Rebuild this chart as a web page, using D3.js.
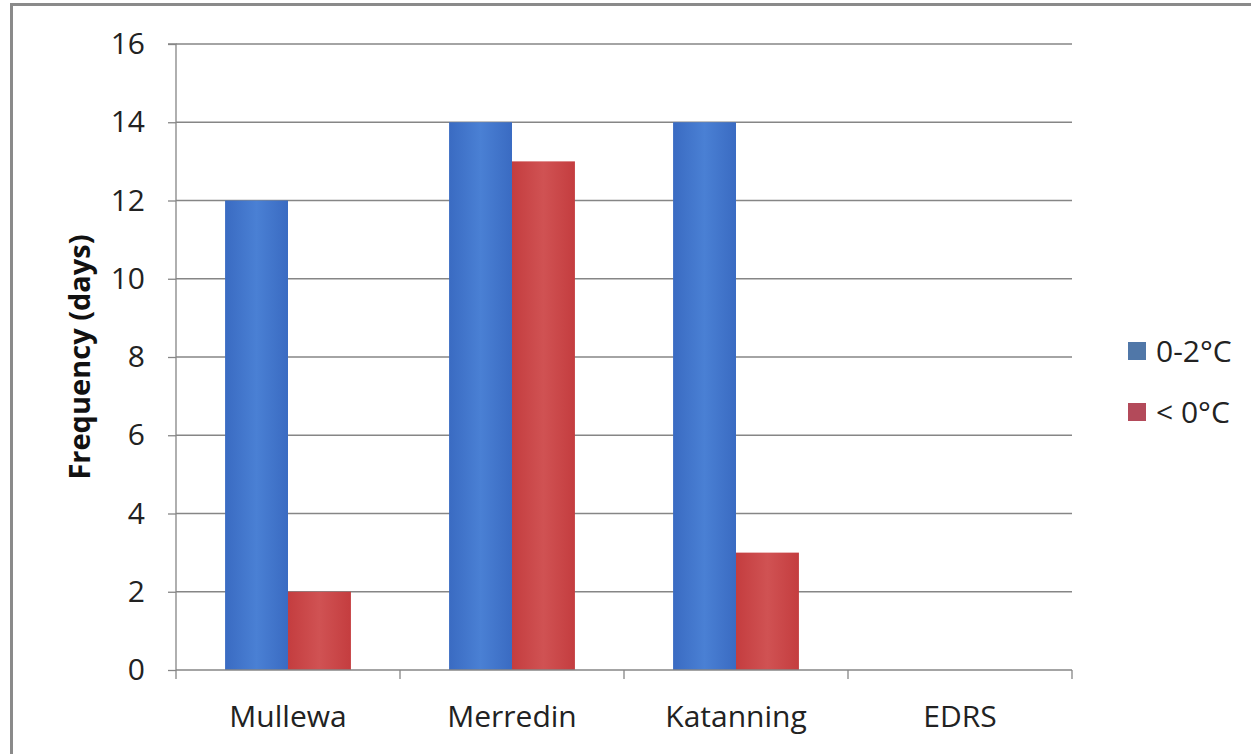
<!DOCTYPE html>
<html><head><meta charset="utf-8">
<script src="https://cdn.jsdelivr.net/npm/d3@7"></script>
<style>body{margin:0;background:#fff;overflow:hidden;}svg{display:block;}</style>
</head><body>
<script>
const categories = ["Mullewa", "Merredin", "Katanning", "EDRS"];
const seriesNames = ["0-2°C", "< 0°C"];
const warmValues = [12, 14, 14, 0];
const coldValues = [2, 13, 3, 0];
const yTicks = [0, 2, 4, 6, 8, 10, 12, 14, 16];

(function () {
const W = 1251, H = 754;
const svg = d3.select("body").append("svg").attr("width", W).attr("height", H);
const font = "'Open Sans', 'Liberation Sans', sans-serif";

// outer frame (top and left edges visible, runs off the right and bottom)
svg.append("rect").attr("x", 11.5).attr("y", 4.5).attr("width", 1300).attr("height", 800)
  .attr("fill", "#fff").attr("stroke", "#8a8a8a").attr("stroke-width", 3);

const pLeft = 176, pRight = 1072, pTop = 44, pBottom = 670;
const x = d3.scaleBand().domain(categories).range([pLeft, pRight]).paddingInner(0).paddingOuter(0);
const xs = d3.scaleBand().domain(seriesNames).range([0, x.bandwidth()]).paddingInner(0).paddingOuter(0.78);
const y = d3.scaleLinear().domain([0, 16]).range([pBottom, pTop]);

const defs = svg.append("defs");
function grad(id, c1, c2) {
  const g = defs.append("linearGradient").attr("id", id).attr("x1", 0).attr("x2", 1).attr("y1", 0).attr("y2", 0);
  g.append("stop").attr("offset", "0%").attr("stop-color", c1);
  g.append("stop").attr("offset", "50%").attr("stop-color", c2);
  g.append("stop").attr("offset", "100%").attr("stop-color", c1);
}
grad("gb", "#3a6bc2", "#4a80d4");
grad("gr", "#c43d3f", "#d05253");
const fills = ["url(#gb)", "url(#gr)"];

// gridlines
svg.append("g").selectAll("line").data(yTicks.filter(d => d > 0)).join("line")
  .attr("x1", pLeft).attr("x2", pRight).attr("y1", d => y(d)).attr("y2", d => y(d))
  .attr("stroke", "#868686").attr("stroke-width", 1.3);

// bars
const data = categories.map((c, i) => ({ c, vals: [warmValues[i], coldValues[i]] }));
const groups = svg.append("g").selectAll("g").data(data).join("g")
  .attr("transform", d => `translate(${x(d.c)},0)`);
groups.selectAll("rect").data(d => d.vals.map((v, k) => ({ v, k }))).join("rect")
  .attr("x", d => xs(seriesNames[d.k])).attr("width", xs.bandwidth())
  .attr("y", d => y(d.v)).attr("height", d => pBottom - y(d.v))
  .attr("fill", d => fills[d.k]);

// y axis
const yAxis = svg.append("g").attr("transform", `translate(${pLeft},0)`)
  .call(d3.axisLeft(y).tickValues(yTicks).tickSize(8).tickPadding(23));
yAxis.select(".domain").attr("stroke", "#868686").attr("stroke-width", 1.3).attr("d", `M-8,${pTop}H0V${pBottom}`);
yAxis.selectAll(".tick line").attr("stroke", "#868686").attr("stroke-width", 1.3);
yAxis.selectAll(".tick text").attr("font-family", font).attr("font-size", 30).attr("fill", "#222");

// x axis
const xAxis = svg.append("g").attr("transform", `translate(0,${pBottom})`)
  .call(d3.axisBottom(x).tickSize(0).tickPadding(36));
xAxis.select(".domain").attr("stroke", "#868686").attr("stroke-width", 1.3).attr("d", `M${pLeft},0H${pRight}`);
xAxis.selectAll(".tick text").attr("font-family", font).attr("font-size", 30).attr("fill", "#222");
svg.append("g").selectAll("line").data(categories.concat([null])).join("line")
  .attr("x1", (d, i) => pLeft + i * x.bandwidth()).attr("x2", (d, i) => pLeft + i * x.bandwidth())
  .attr("y1", pBottom).attr("y2", pBottom + 9).attr("stroke", "#868686").attr("stroke-width", 1.3);

// y title
svg.append("text").attr("transform", "translate(90,357) rotate(-90)")
  .attr("text-anchor", "middle").attr("font-family", font).attr("font-weight", "bold")
  .attr("font-size", 29).attr("fill", "#111").text("Frequency (days)");

// legend
const legendColors = ["#5077a8", "#b34a5a"];
const lg = svg.append("g").selectAll("g").data(seriesNames).join("g")
  .attr("transform", (d, i) => `translate(1128,${351 + i * 61})`);
lg.append("rect").attr("x", 0).attr("y", -9).attr("width", 18).attr("height", 18)
  .attr("fill", (d, i) => legendColors[i]);
lg.append("text").attr("x", 28).attr("y", 0).attr("dy", "0.35em")
  .attr("font-family", font).attr("font-size", 30).attr("fill", "#222").text(d => d);
})();
</script>
</body></html>
